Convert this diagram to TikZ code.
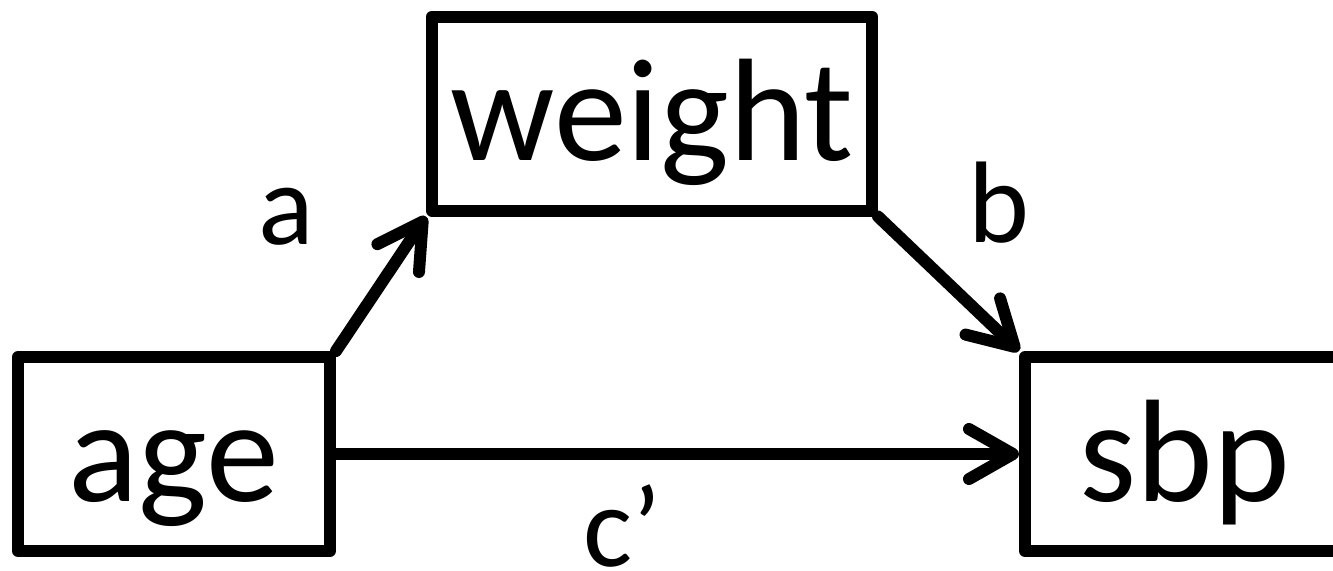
\documentclass[tikz,border=0pt]{standalone}
\usepackage{fontspec}
\setmainfont{Carlito}
\usetikzlibrary{arrows.meta}
\tikzset{
  every picture/.style={
    line join=round,
    line cap=round,
  },
  varbox/.style={draw, line width=6pt, minimum height=97pt,
    font=\fontsize{73}{80}\selectfont, text height=50pt, text depth=3pt},
  effect/.style={line width=6pt, -{Straight Barb[length=22pt,width=25pt,round]}},
  coef/.style={font=\fontsize{58}{64}\selectfont, anchor=base},
}
\begin{document}
\begin{tikzpicture}[x=0.5pt, y=-0.5pt]
    \useasboundingbox (0,0) rectangle (1333,570);

    % Variables
    \node[varbox, minimum width=156pt] (age) at (174,454) {age};
    \node[varbox, minimum width=220pt] (weight) at (652,113.5) {weight};
    \node[varbox, minimum width=160pt] (sbp) at (1185,454) {sbp};

    % Paths
    \draw[effect] (age.north east) -- (weight.south west);
    \draw[effect] (weight.south east) -- (sbp.north west);
    \draw[effect] (age.east) -- (sbp.west);

    % Path labels
    \node[coef] (a) at (286,244) {a};
    \node[coef] (b) at (999,242) {b};
    \node[coef] (c) at (622,566) {c’};
\end{tikzpicture}
\end{document}
